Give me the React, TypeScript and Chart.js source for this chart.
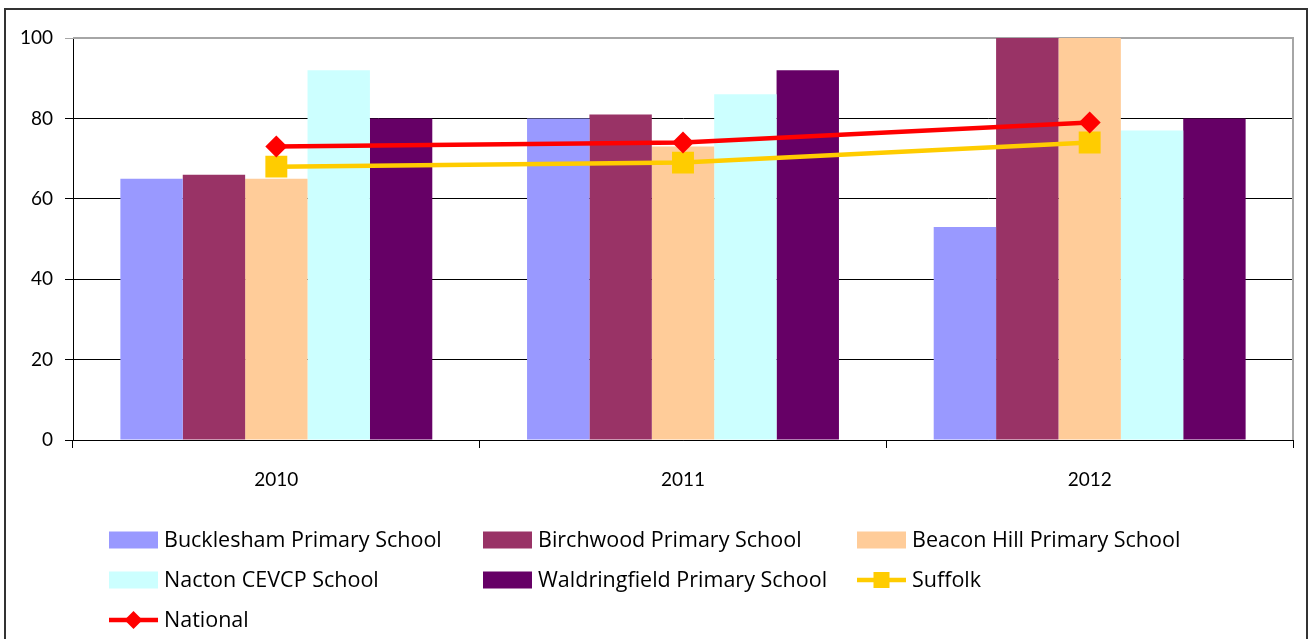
import React, { useEffect, useRef } from "react";
import { Chart, registerables } from "chart.js";

Chart.register(...registerables);

const years = ["2010", "2011", "2012"];
const bucklesham = [65, 80, 53];
const birchwood = [66, 81, 100];
const beaconHill = [65, 73, 100];
const nacton = [92, 86, 77];
const waldringfield = [80, 92, 80];
const suffolk = [68, 69, 74];
const national = [73, 74, 79];
const yMin = 0;
const yMax = 100;
const yStep = 20;

const FONT = "Lato, 'Liberation Sans', sans-serif";
const LEGEND_FONT = "'Open Sans', Lato, sans-serif";

const plotFrame = {
  id: "plotFrame",
  beforeDatasetsDraw(chart: any) {
    const { ctx, chartArea } = chart;
    ctx.save();
    ctx.strokeStyle = "#a6a6a6";
    ctx.lineWidth = 2;
    ctx.beginPath();
    ctx.moveTo(chartArea.left, chartArea.top);
    ctx.lineTo(chartArea.right, chartArea.top);
    ctx.lineTo(chartArea.right, chartArea.bottom);
    ctx.stroke();
    ctx.restore();
  },
};

const gridLegend = {
  id: "gridLegend",
  afterDraw(chart: any) {
    const ctx = chart.ctx;
    const cols = [109, 483, 857];
    const rows = [540, 580, 620];
    chart.data.datasets.forEach((ds: any, i: number) => {
      const x = cols[i % 3];
      const y = rows[Math.floor(i / 3)];
      ctx.save();
      if (ds.type === "line") {
        ctx.strokeStyle = ds.borderColor;
        ctx.lineWidth = 4.5;
        ctx.beginPath();
        ctx.moveTo(x, y);
        ctx.lineTo(x + 49, y);
        ctx.stroke();
        ctx.fillStyle = ds.borderColor;
        const cx = x + 24.5;
        if (ds.pointStyle === "rectRot") {
          const r = 9;
          ctx.beginPath();
          ctx.moveTo(cx - r, y);
          ctx.lineTo(cx, y - r);
          ctx.lineTo(cx + r, y);
          ctx.lineTo(cx, y + r);
          ctx.closePath();
          ctx.fill();
        } else {
          ctx.fillRect(cx - 8, y - 8, 16, 16);
        }
      } else {
        ctx.fillStyle = ds.backgroundColor;
        ctx.fillRect(x, y - 8.5, 49, 17);
      }
      ctx.fillStyle = "#000";
      ctx.font = `21.5px ${LEGEND_FONT}`;
      ctx.textBaseline = "middle";
      ctx.textAlign = "left";
      ctx.fillText(ds.label, x + 55, y + 1);
      ctx.restore();
    });
  },
};

export default function App() {
  const canvasRef = useRef<HTMLCanvasElement | null>(null);

  useEffect(() => {
    document.body.style.margin = "0";
    document.body.style.overflow = "hidden";
    const canvas = canvasRef.current;
    if (!canvas) return;
    const bar = (label: string, data: number[], color: string) => ({
      type: "bar" as const,
      label,
      data,
      backgroundColor: color,
      borderWidth: 0,
      order: 2,
    });
    const chart = new Chart(canvas, {
      type: "bar",
      data: {
        labels: years,
        datasets: [
          bar("Bucklesham Primary School", bucklesham, "#9999FF"),
          bar("Birchwood Primary School", birchwood, "#993366"),
          bar("Beacon Hill Primary School", beaconHill, "#FFCC99"),
          bar("Nacton CEVCP School", nacton, "#CCFFFF"),
          bar("Waldringfield Primary School", waldringfield, "#660066"),
          {
            type: "line" as const,
            label: "Suffolk",
            data: suffolk,
            borderColor: "#FFCC00",
            backgroundColor: "#FFCC00",
            borderWidth: 4.5,
            pointStyle: "rect",
            pointRadius: 15.5,
            pointBorderWidth: 0,
            tension: 0,
            order: 1,
          } as any,
          {
            type: "line" as const,
            label: "National",
            data: national,
            borderColor: "#FF0000",
            backgroundColor: "#FF0000",
            borderWidth: 4.5,
            pointStyle: "rectRot",
            pointRadius: 11,
            pointBorderWidth: 0,
            tension: 0,
            order: 0,
          } as any,
        ],
      },
      options: {
        responsive: false,
        animation: false,
        devicePixelRatio: 1,
        layout: { padding: { top: 38, right: 16, left: 0, bottom: 0 } },
        datasets: {
          bar: { barPercentage: 1, categoryPercentage: 0.767 },
        },
        plugins: {
          legend: { display: false },
          tooltip: { enabled: false },
        },
        scales: {
          x: {
            afterFit: (s: any) => {
              s.height = 199;
            },
            grid: {
              drawOnChartArea: false,
              drawTicks: true,
              tickLength: 8,
              color: "#000",
              offset: true,
            },
            border: { color: "#000", width: 1 },
            ticks: {
              color: "#000",
              font: { family: FONT, size: 19 },
              padding: 20,
            },
          },
          y: {
            min: yMin,
            max: yMax,
            afterFit: (s: any) => {
              s.width = 73;
            },
            ticks: {
              stepSize: yStep,
              color: "#000",
              font: { family: FONT, size: 19 },
              padding: 12,
            },
            grid: {
              color: (c: any) => (c.tick && c.tick.value === yMax ? "#a6a6a6" : "#000"),
              lineWidth: 1,
              tickLength: 8,
            },
            border: { color: "#000", width: 1 },
          },
        },
      },
      plugins: [plotFrame, gridLegend],
    });
    return () => chart.destroy();
  }, []);

  return (
    <div style={{ position: "absolute", left: 0, top: 0, width: 1309, height: 639, overflow: "hidden", background: "#fff" }}>
      <canvas ref={canvasRef} width={1309} height={639} style={{ position: "absolute", left: 0, top: 0 }} />
      <div
        style={{
          position: "absolute",
          left: 4,
          top: 8,
          width: 1304,
          height: 700,
          border: "2px solid #333",
          boxSizing: "border-box",
          pointerEvents: "none",
        }}
      />
    </div>
  );
}
